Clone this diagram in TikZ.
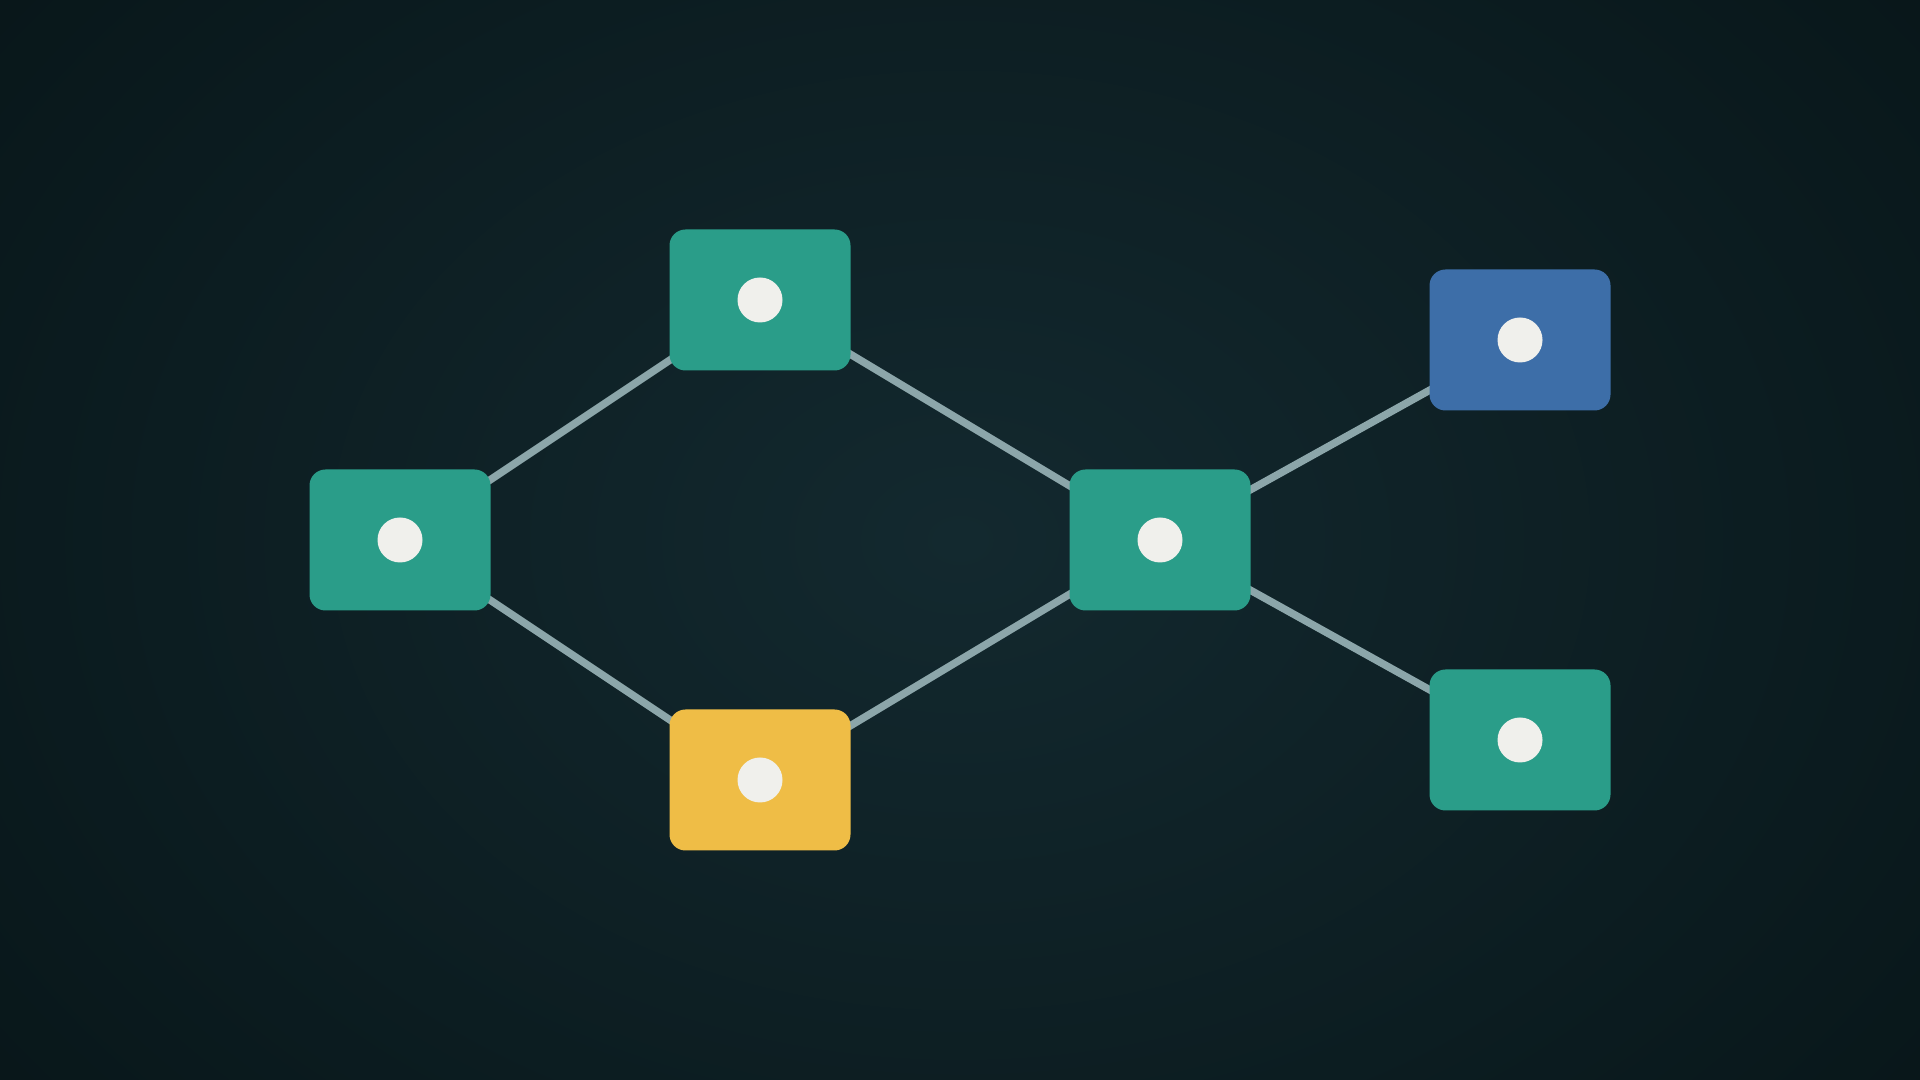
\documentclass[tikz,border=0pt]{standalone}
\usepackage{tikz}
\usetikzlibrary {positioning, backgrounds}

\definecolor{bgdark}{HTML}{081619}
\definecolor{bgmid}{HTML}{13292F}
\definecolor{tealbox}{HTML}{2A9D89}
\definecolor{goldbox}{HTML}{EFBD46}
\definecolor{bluebox}{HTML}{3D6EA8}
\definecolor{linkgray}{HTML}{8CA6AA}
\definecolor{dotwhite}{HTML}{F0F0EC}

\begin{document}
\begin{tikzpicture}[on grid,
      box/.style={fill=tealbox, rounded corners=0.16cm, minimum width=1.81cm, minimum height=1.41cm, inner sep=0pt},
      link/.style={draw=linkgray, line width=0.075cm}]
      \useasboundingbox (0,0) rectangle (19.2,10.8);
      \node[box]   (a) at (4,5.4) {};
      \node[box]   (b) [above right=2.4cm and 3.6cm of a] {};
      \node[box, fill=goldbox] (c) [below right=2.4cm and 3.6cm of a] {};
      \node[box]   (d) [right=7.6cm of a] {};
      \node[box, fill=bluebox] (e) [above right=2cm and 3.6cm of d] {};
      \node[box]   (f) [below right=2cm and 3.6cm of d] {};
      % white dots
      \foreach \n in {a,b,c,d,e,f}
        \fill[dotwhite] (\n.center) circle (0.225cm);
      \begin{scope}[on background layer]
        \fill[bgdark] (0,0) rectangle (19.2,10.8);
        \shade[inner color=bgmid, outer color=bgdark] (-3,-4) rectangle (22.2,14.8);
        \path[link] (a.center) edge (b.center) (a.center) edge (c.center)
                    (b.center) edge (d.center) (c.center) edge (d.center)
                    (d.center) edge (e.center) (d.center) edge (f.center);
      \end{scope}
    \end{tikzpicture}
\end{document}
